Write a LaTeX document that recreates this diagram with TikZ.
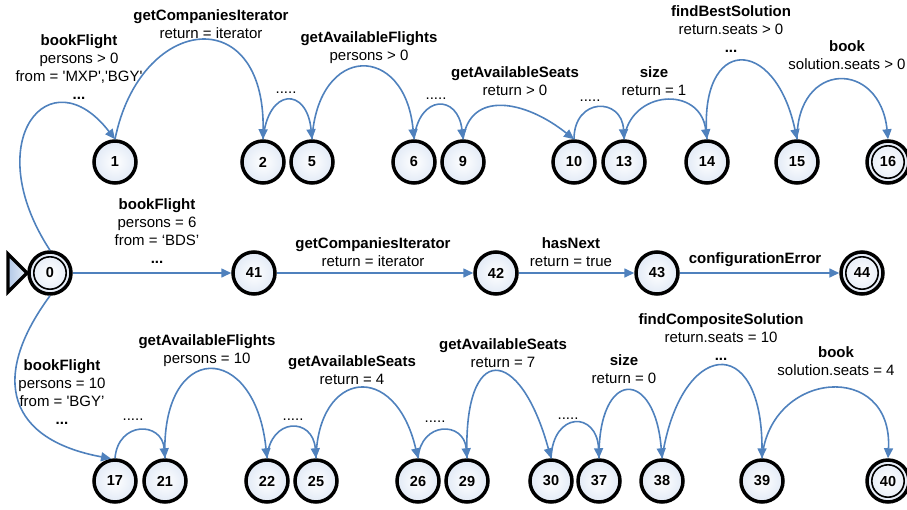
\documentclass[tikz,border=0pt]{standalone}
\usepackage{fontspec}
\setmainfont{Liberation Sans}
\usetikzlibrary{arrows.meta}

\definecolor{edgeblue}{RGB}{79,129,189}
\definecolor{stateshade}{RGB}{226,234,246}
\definecolor{startdark}{RGB}{178,200,230}
\definecolor{startlight}{RGB}{232,239,249}

\newcommand{\lblfont}{\fontsize{15}{18}\selectfont}

\tikzset{
  state/.style={circle, draw=black, line width=3.5pt, minimum size=42pt,
    inner sep=0pt, inner color=white, outer color=stateshade,
    font=\fontsize{14.5}{16}\selectfont\bfseries},
  final/.style={state, path picture={\draw[line width=1.6pt]
    (path picture bounding box.center) circle (16.2pt);}},
  edge/.style={draw=edgeblue, line width=1.6pt,
    -{Triangle[length=10pt,width=9pt]}},
  lbl/.style={anchor=north, inner sep=0pt, align=center, font=\lblfont},
  gap/.style={anchor=base, inner sep=0pt, font=\lblfont},
}

\begin{document}
\begin{tikzpicture}[x=1pt,y=-1pt]
\useasboundingbox (0,0) rectangle (907,509);

% initial-state marker (drawn first so the start state covers its tip)
\draw[line width=3.2pt, line join=miter, left color=startdark, right color=startlight]
  (8,254) -- (27,273) -- (8,292) -- cycle;

% ---- states, top branch ----
\node[state] (n1)  at (115,162) {1};
\node[state] (n2)  at (263,162) {2};
\node[state] (n5)  at (312,162) {5};
\node[state] (n6)  at (414,162) {6};
\node[state] (n9)  at (463,162) {9};
\node[state] (n10) at (574,162) {10};
\node[state] (n13) at (624,162) {13};
\node[state] (n14) at (707,162) {14};
\node[state] (n15) at (797,162) {15};
\node[final] (n16) at (888,162) {16};

% ---- states, middle branch ----
\node[final] (n0)  at (50,273)  {0};
\node[state] (n41) at (254,273) {41};
\node[state] (n42) at (496,273) {42};
\node[state] (n43) at (657,273) {43};
\node[final] (n44) at (862,273) {44};

% ---- states, bottom branch ----
\node[state] (n17) at (115,481) {17};
\node[state] (n21) at (165,481) {21};
\node[state] (n22) at (267,481) {22};
\node[state] (n25) at (316,481) {25};
\node[state] (n26) at (418,481) {26};
\node[state] (n29) at (467,481) {29};
\node[state] (n30) at (551,481) {30};
\node[state] (n37) at (599,481) {37};
\node[state] (n38) at (662,481) {38};
\node[state] (n39) at (762,481) {39};
\node[final] (n40) at (888,481) {40};

% ---- transitions, top branch ----
\draw[edge] (n0.north) .. controls (-22,140) and (50,55) .. (n1.north);
\draw[edge] (n1.north) .. controls (140,15) and (265,0) .. (n2.north);
\draw[edge] (n2.north) .. controls (268,87) and (307,87) .. (n5.north);
\draw[edge] (n5.north) .. controls (318,43) and (405,43) .. (n6.north);
\draw[edge] (n6.north) .. controls (419,94) and (458,94) .. (n9.north);
\draw[edge] (n9.north) .. controls (470,90) and (525,100) .. (n10.north);
\draw[edge] (n10.north) .. controls (574,97) and (622,97) .. (n13.north);
\draw[edge] (n13.north) .. controls (630,90) and (700,85) .. (n14.north);
\draw[edge] (n14.north) .. controls (698,35) and (775,35) .. (n15.north);
\draw[edge] (n15.north) .. controls (797,60) and (880,60) .. (n16.north);

% ---- transitions, middle branch ----
\draw[edge] (n0) -- (n41);
\draw[edge] (n41) -- (n42);
\draw[edge] (n42) -- (n43);
\draw[edge] (n43) -- (n44);

% ---- transitions, bottom branch ----
\draw[edge] (n0.south) .. controls (-12,380) and (10,440) .. (n17.100);
\draw[edge] (n17.north) .. controls (118,421) and (162,421) .. (n21.north);
\draw[edge] (n21.north) .. controls (160,340) and (255,340) .. (n22.north);
\draw[edge] (n22.north) .. controls (270,417) and (313,417) .. (n25.north);
\draw[edge] (n25.north) .. controls (318,370) and (395,360) .. (n26.north);
\draw[edge] (n26.north) .. controls (421,421) and (464,421) .. (n29.north);
\draw[edge] (n29.north) .. controls (463,340) and (520,345) .. (n30.north);
\draw[edge] (n30.north) .. controls (553,411) and (597,411) .. (n37.north);
\draw[edge] (n37.north) .. controls (598,368) and (655,368) .. (n38.north);
\draw[edge] (n38.north) .. controls (680,340) and (762,330) .. (n39.north);
\draw[edge] (n39.north) .. controls (770,370) and (893,360) .. (n40.north);

% ---- labels, top branch ----
\node[lbl] (l01) at (79,32.4) {\strut\textbf{bookFlight}\\persons > 0\\from = \textquotesingle MXP\textquotesingle,\textquotesingle BGY\textquotesingle\\\textbf{...}};
\node[lbl] (l12) at (211,7.4) {\strut\textbf{getCompaniesIterator}\\return = iterator};
\node[gap] (g25) at (286,93) {.....};
\node[lbl] (l56) at (369,29.4) {\strut\textbf{getAvailableFlights}\\persons > 0};
\node[gap] (g69) at (436,99) {.....};
\node[lbl] (l910) at (515,64.4) {\strut\textbf{getAvailableSeats}\\return > 0};
\node[gap] (g1013) at (590,101) {.....};
\node[lbl] (l1314) at (654,64.4) {\strut\textbf{size}\\return = 1};
\node[lbl] (l1415) at (731,3.4) {\strut\textbf{findBestSolution}\\return.seats > 0\\\textbf{...}};
\node[lbl] (l1516) at (847,38.4) {\strut\textbf{book}\\solution.seats > 0};

% ---- labels, middle branch ----
\node[lbl] (l041) at (157,196.4) {\strut\textbf{bookFlight}\\persons = 6\\from = ‘BDS’\\\textbf{...}};
\node[lbl] (l4142) at (373,235.4) {\strut\textbf{getCompaniesIterator}\\return = iterator};
\node[lbl] (l4243) at (571,235.4) {\strut\textbf{hasNext}\\return = true};
\node[lbl] (l4344) at (755,250.4) {\strut\textbf{configurationError}};

% ---- labels, bottom branch ----
\node[lbl] (l017) at (62,357.4) {\strut\textbf{bookFlight}\\persons = 10\\from = \textquotesingle BGY’\\\textbf{...}};
\node[gap] (g1721) at (133,420) {.....};
\node[lbl] (l2122) at (207,332.4) {\strut\textbf{getAvailableFlights}\\persons = 10};
\node[gap] (g2225) at (293,420) {.....};
\node[lbl] (l2526) at (352,353.4) {\strut\textbf{getAvailableSeats}\\return = 4};
\node[gap] (g2629) at (435,422) {.....};
\node[lbl] (l2930) at (503,336.4) {\strut\textbf{getAvailableSeats}\\return = 7};
\node[gap] (g3037) at (568,419) {.....};
\node[lbl] (l3738) at (624,352.4) {\strut\textbf{size}\\return = 0};
\node[lbl] (l3839) at (721,311.4) {\strut\textbf{findCompositeSolution}\\return.seats = 10\\\textbf{...}};
\node[lbl] (l3940) at (836,344.4) {\strut\textbf{book}\\solution.seats = 4};
\end{tikzpicture}
\end{document}
